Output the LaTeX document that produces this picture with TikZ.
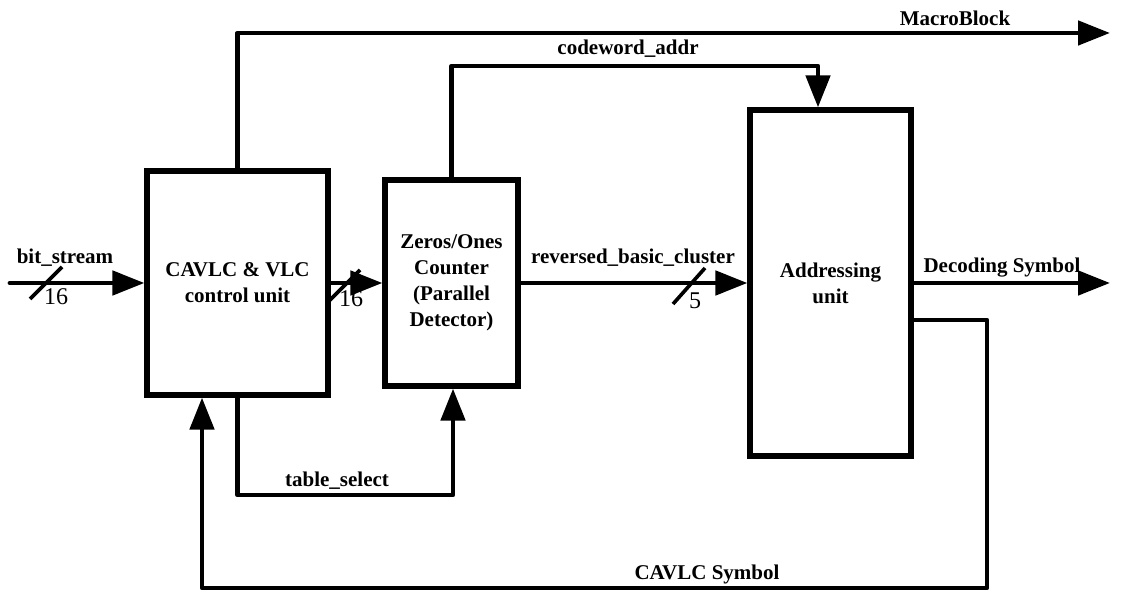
\documentclass[tikz,border=0pt]{standalone}
\usepackage{fontspec}
\setmainfont{Liberation Serif}
\usetikzlibrary{arrows.meta,positioning}

\begin{document}
\begin{tikzpicture}[x=0.5pt,y=-0.5pt,
    font=\fontsize{10.5}{13}\selectfont\bfseries,
    block/.style={draw,line width=2.6pt,align=center,inner sep=2pt},
    wire/.style={line width=2.4pt,line join=round,-{Triangle[length=16pt,width=12pt]}},
    busmark/.style={line width=1.8pt},
    buswidth/.style={font=\fontsize{12}{14}\selectfont\mdseries}]
  \useasboundingbox (0,0) rectangle (1128,592);
  \node[block,minimum width=90.5pt,minimum height=112pt] (cavlc) at (237.5,283) {CAVLC \& VLC\\control unit};
  \node[block,minimum width=66.5pt,minimum height=103pt] (zeros) at (451.5,283) {Zeros/Ones\\Counter\\(Parallel\\Detector)};
  \node[block,minimum width=80.5pt,minimum height=173pt] (addr) at (830.5,283) {Addressing\\unit};

  \coordinate (bsin) at (10,283);
  \coordinate (mbout) at (1110,33);
  \coordinate (dsout) at (1110,283);
  \coordinate (cwturn) at (818,66);
  \coordinate (fbturn) at (987,588);
  \coordinate (fbup) at (202,588);
  \coordinate (tsturn) at (453,495);

  \draw[wire,line cap=round] (bsin) -- (cavlc);
  \draw[wire] (cavlc.north) |- (mbout);
  \draw[wire] (zeros.north) |- (cwturn) -- (cwturn |- addr.north);
  \draw[wire] (cavlc) -- (zeros);
  \draw[wire] (zeros) -- (addr);
  \draw[wire] (addr.east) -- (dsout);
  \draw[wire] ([yshift=-18.5pt]addr.east) -| (fbturn) -- (fbup) -- (fbup |- cavlc.south);
  \draw[wire] (cavlc.south) |- (tsturn) -- (tsturn |- zeros.south);

  \draw[busmark] (30,299) -- (62,267);
  \node[buswidth] (bw1) at (56,297) {16};
  \draw[busmark] (328,302) -- (360,270);
  \node[buswidth] (bw2) at (351,299) {16};
  \draw[busmark] (673,304) -- (705,268);
  \node[buswidth] (bw3) at (695,301) {5};

  \node (bslbl) at (65,258) {bit\_stream};
  \node (mblbl) at (955,18) {MacroBlock};
  \node (cwlbl) at (628,49) {codeword\_addr};
  \node (rbclbl) at (633,258) {reversed\_basic\_cluster};
  \node (dslbl) at (1002,268) {Decoding Symbol};
  \node (tslbl) at (337,481) {table\_select};
  \node (cslbl) at (707,574) {CAVLC Symbol};
\end{tikzpicture}
\end{document}
